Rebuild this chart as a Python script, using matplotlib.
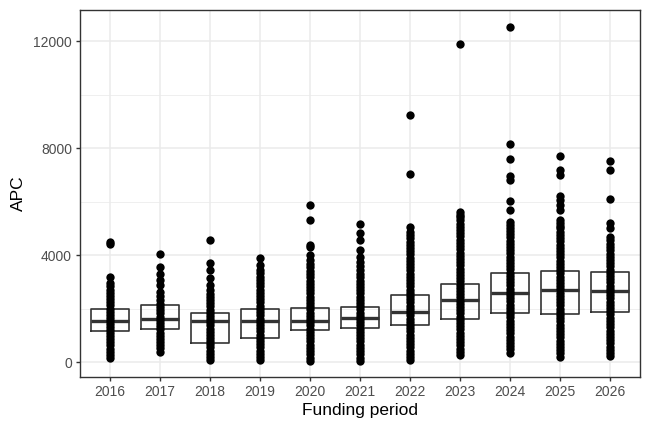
import matplotlib.pyplot as plt
import numpy as np

plt.rcParams['font.family'] = ['Liberation Sans', 'DejaVu Sans']

years = ['2016', '2017', '2018', '2019', '2020', '2021', '2022', '2023', '2024', '2025', '2026']

# box statistics
q1 = [1170, 1230, 700, 910, 1196, 1260, 1380, 1630, 1820, 1790, 1860]
med = [1544, 1610, 1545, 1530, 1544, 1660, 1880, 2320, 2570, 2690, 2670]
q3 = [1970, 2130, 1845, 1970, 2030, 2070, 2500, 2940, 3315, 3410, 3380]

# APC values per funding period (points)
apc_2016 = [150, 270, 390, 500, 620, 740, 850, 970, 1080, 1200, 1310, 1430, 1540, 1660, 1770, 1890,
            2000, 2120, 2240, 2350, 2470, 2590, 2700, 2830, 2950, 3190, 4410, 4490]
apc_2017 = [390, 510, 630, 740, 860, 980, 1100, 1220, 1340, 1460, 1580, 1700, 1820, 1940, 2060,
            2180, 2320, 2470, 2630, 2900, 3070, 3300, 3550, 4030]
apc_2018 = [75, 190, 310, 430, 550, 660, 780, 900, 1020, 1140, 1250, 1370, 1490, 1610, 1730, 1850,
            1960, 2080, 2200, 2320, 2440, 2560, 2690, 2900, 3130, 3440, 3720, 4560]
apc_2019 = [75, 190, 310, 430, 550, 670, 790, 910, 1030, 1150, 1270, 1390, 1510, 1630, 1750, 1870,
            1990, 2110, 2230, 2350, 2470, 2590, 2710, 2830, 2950, 3070, 3190, 3320, 3440, 3650, 3900]
apc_2020 = [50, 170, 290, 410, 530, 650, 770, 890, 1010, 1130, 1250, 1370, 1490, 1610, 1730, 1850,
            1970, 2090, 2210, 2330, 2450, 2570, 2690, 2810, 2930, 3050, 3170, 3290, 3420, 3550, 3680,
            3810, 4000, 4300, 4400, 5330, 5870]
apc_2021 = [50, 170, 290, 410, 530, 650, 770, 890, 1010, 1130, 1250, 1370, 1490, 1610, 1730, 1850,
            1970, 2090, 2210, 2330, 2450, 2570, 2690, 2810, 2930, 3050, 3170, 3300, 3440, 3600, 3750,
            3940, 4190, 4560, 4830, 5150]
apc_2022 = [75, 190, 310, 430, 550, 670, 790, 910, 1030, 1150, 1270, 1390, 1510, 1630, 1750, 1870,
            1990, 2110, 2230, 2350, 2470, 2590, 2710, 2830, 2950, 3070, 3190, 3310, 3430, 3550, 3670,
            3790, 3910, 4030, 4150, 4270, 4390, 4510, 4630, 4750, 4880, 5060, 7050, 9230]
apc_2023 = [260, 380, 500, 620, 740, 860, 980, 1100, 1220, 1340, 1460, 1580, 1700, 1820, 1940, 2060,
            2180, 2300, 2420, 2540, 2660, 2780, 2900, 3020, 3140, 3260, 3380, 3500, 3620, 3740, 3860,
            3980, 4100, 4220, 4340, 4460, 4580, 4700, 4820, 4940, 5060, 5180, 5300, 5420, 5520, 5620,
            11900]
apc_2024 = [350, 470, 590, 710, 830, 950, 1070, 1190, 1310, 1430, 1550, 1670, 1790, 1910, 2030, 2150,
            2270, 2390, 2510, 2630, 2750, 2870, 2990, 3110, 3230, 3350, 3470, 3590, 3710, 3830, 3950,
            4070, 4190, 4310, 4430, 4550, 4670, 4790, 4910, 5030, 5140, 5250, 5680, 6020, 6800, 6960,
            7610, 8150, 12560]
apc_2025 = [200, 320, 440, 560, 680, 800, 920, 1040, 1160, 1280, 1400, 1520, 1640, 1760, 1880, 2000,
            2120, 2240, 2360, 2480, 2600, 2720, 2840, 2960, 3080, 3200, 3320, 3440, 3560, 3680, 3800,
            3920, 4040, 4160, 4280, 4400, 4520, 4640, 4760, 4880, 5000, 5110, 5210, 5310, 5680, 5870,
            6060, 6200, 6990, 7180, 7710]
apc_2026 = [220, 340, 460, 580, 700, 820, 940, 1060, 1180, 1300, 1420, 1540, 1660, 1780, 1900, 2020,
            2140, 2260, 2380, 2500, 2620, 2740, 2860, 2980, 3100, 3220, 3340, 3460, 3580, 3700, 3820,
            3940, 4060, 4180, 4300, 4420, 4560, 4690, 5000, 5210, 6120, 7200, 7510]

apc = [apc_2016, apc_2017, apc_2018, apc_2019, apc_2020, apc_2021,
       apc_2022, apc_2023, apc_2024, apc_2025, apc_2026]

fig = plt.figure(figsize=(6.48, 4.32), dpi=100)
ax = fig.add_axes([0.1235, 0.1273, 0.8642, 0.8496])

pos = np.arange(1, len(years) + 1)
stats = []
for i in range(len(years)):
    stats.append({'med': med[i], 'q1': q1[i], 'q3': q3[i],
                  'whislo': q1[i], 'whishi': q3[i], 'fliers': []})
ax.bxp(stats, positions=pos, widths=0.75, showfliers=False, showcaps=False,
       boxprops=dict(color='#333333', linewidth=1.2),
       whiskerprops=dict(color='#333333', linewidth=1.2),
       medianprops=dict(color='#333333', linewidth=2.4),
       zorder=3)

for i, vals in enumerate(apc):
    ax.scatter(np.full(len(vals), pos[i]), vals, s=36, color='black', linewidths=0, zorder=4)

ax.set_xlim(0.4, len(years) + 0.6)
ax.set_ylim(-560, 13180)
ax.set_xticks(pos)
ax.set_xticklabels(years)
ax.set_yticks([0, 4000, 8000, 12000])
ax.set_yticks([2000, 6000, 10000], minor=True)

ax.grid(which='major', color='#ebebeb', linewidth=1.1, zorder=0)
ax.grid(which='minor', axis='y', color='#ebebeb', linewidth=0.55, zorder=0)
ax.set_axisbelow(True)
for sp in ax.spines.values():
    sp.set_color('#333333')
    sp.set_linewidth(1.0)
ax.tick_params(which='major', colors='#333333', labelcolor='#4d4d4d', labelsize=10, length=3.2, width=1.0, pad=2.5)
ax.tick_params(which='minor', length=0)

ax.set_xlabel('Funding period', fontsize=12.5, color='black', labelpad=3)
ax.set_ylabel('APC', fontsize=12.5, color='black', labelpad=5)

fig.savefig('out.png', dpi=100)
